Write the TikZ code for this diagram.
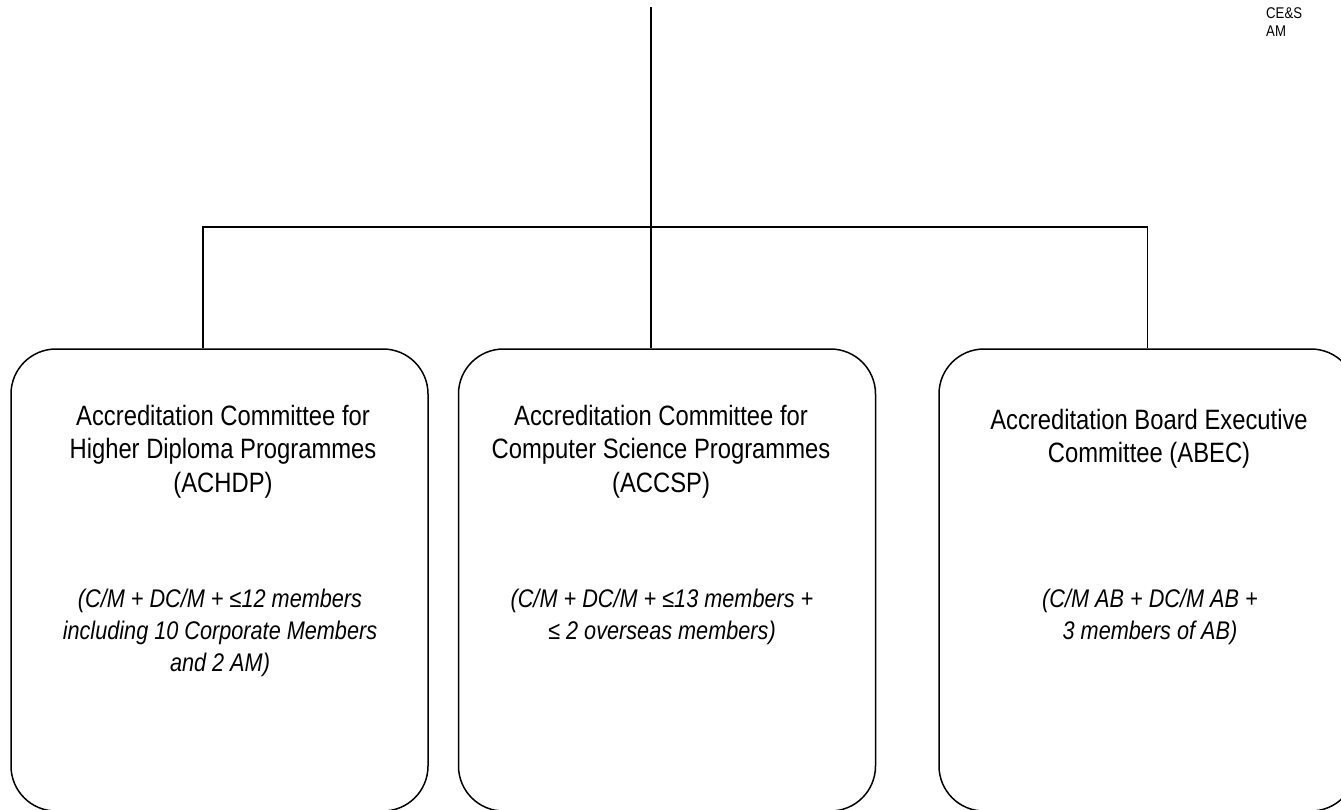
\documentclass[tikz,border=0pt]{standalone}
\usepackage{fontspec}
\setmainfont{Liberation Sans}[FakeStretch=0.85]
\usetikzlibrary{positioning}

\tikzset{
  comite/.style={draw, line width=1.5pt, rounded corners=45pt,
    minimum width=417pt, minimum height=462pt, inner sep=0pt},
  titulo/.style={anchor=north, align=center, inner sep=0pt,
    font=\fontsize{28}{33.5}\selectfont},
  miembros/.style={anchor=north, align=center, inner sep=0pt,
    font=\fontsize{25.5}{32}\selectfont\itshape},
  enlace/.style={line width=1.5pt}
}

\begin{document}
\begin{tikzpicture}[x=1pt, y=-1pt]
    \useasboundingbox (0,0) rectangle (1341,809);
    % Nota arriba a la derecha
    \node[anchor=north west, align=left, inner sep=0pt,
      font=\fontsize{15.5}{18}\selectfont] (nota) at (1266,7) {CE\&S\\AM};
    % Comites
    \node[comite] (achdp) at (219.5,580) {};
    \node[comite] (accsp) at (667,580) {};
    \node[comite] (abec) at (1147.5,580) {};
    % Textos de cada comite
    \node[titulo] (tachdp) at (223,405) {Accreditation Committee for\\Higher Diploma Programmes\\(ACHDP)};
    \node[miembros] (machdp) at (220,589) {(C/M + DC/M + ≤12 members\\including 10 Corporate Members\\and 2 AM)};
    \node[titulo] (taccsp) at (661,405) {Accreditation Committee for\\Computer Science Programmes\\(ACCSP)};
    \node[miembros] (maccsp) at (662,589) {(C/M + DC/M + ≤13 members +\\≤ 2 overseas members)};
    \node[titulo] (tabec) at (1149,409) {Accreditation Board Executive\\Committee (ABEC)};
    \node[miembros] (mabec) at (1150,589) {(C/M AB + DC/M AB +\\3 members of AB)};
    % Lineas de union
    \coordinate (raiz) at (651,7);
    \coordinate (cruce) at (651,227);
    \draw[enlace] (raiz) -- ([xshift=-16pt]accsp.north);
    \draw[enlace] ([xshift=-16.5pt]achdp.north) |- (cruce) -| (abec.north);
\end{tikzpicture}
\end{document}
